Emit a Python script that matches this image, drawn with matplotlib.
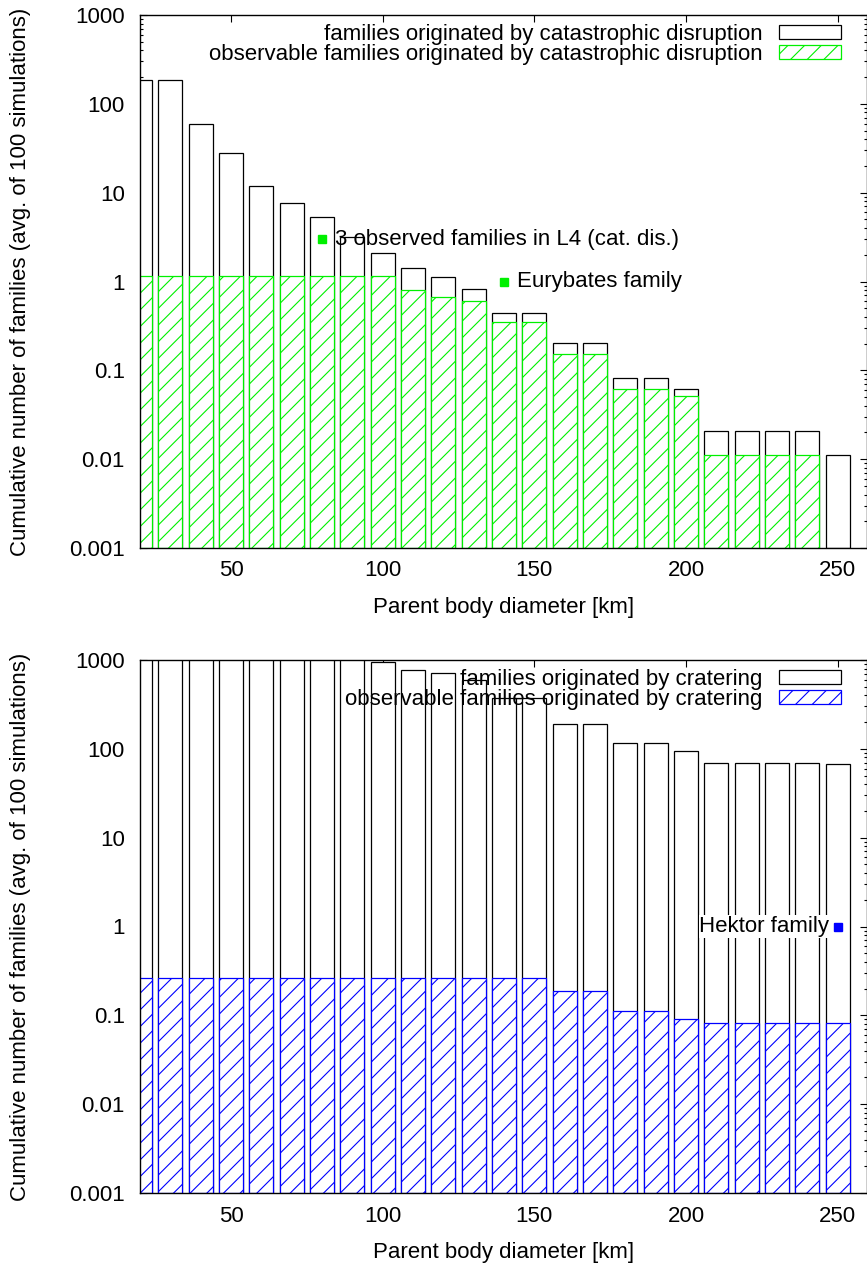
"""Cumulative number of families vs parent body diameter (cat. disruption / cratering)."""
import numpy as np
import matplotlib
matplotlib.use("Agg")
import matplotlib.pyplot as plt
from matplotlib.patches import Rectangle
from matplotlib.ticker import LogLocator, FixedLocator, NullFormatter

plt.rcParams["font.family"] = ["Liberation Sans", "DejaVu Sans"]
plt.rcParams["hatch.linewidth"] = 0.8

# parent body diameter [km]
diameters = [20, 30, 40, 50, 60, 70, 80, 90, 100, 110, 120, 130,
             140, 150, 160, 170, 180, 190, 200, 210, 220, 230, 240, 250]

# catastrophic disruption (avg. of 100 simulations)
cat_all = [185, 185, 60, 28, 12, 7.7, 5.3, 3.2, 2.1, 1.4, 1.12, 0.82,
           0.44, 0.44, 0.2, 0.2, 0.08, 0.08, 0.06, 0.02, 0.02, 0.02, 0.02, 0.01]
cat_obs = [1.15, 1.15, 1.15, 1.15, 1.15, 1.15, 1.15, 1.15, 1.15, 0.8, 0.67, 0.6,
           0.35, 0.35, 0.15, 0.15, 0.06, 0.06, 0.05, 0.01, 0.01, 0.01, 0.01, 0.0]

# cratering (avg. of 100 simulations)
crat_all = [3000, 3000, 3000, 3000, 3000, 3000, 3000, 3000, 950, 780, 720, 600,
            375, 375, 190, 190, 115, 115, 95, 69, 69, 69, 69, 67]
crat_obs = [0.26, 0.26, 0.26, 0.26, 0.26, 0.26, 0.26, 0.26, 0.26, 0.26, 0.26, 0.26,
            0.26, 0.26, 0.185, 0.185, 0.11, 0.11, 0.09, 0.08, 0.08, 0.08, 0.08, 0.08]

# observed families
obs_cat_d = [80, 140]
obs_cat_n = [3, 1]
obs_cat_labels = ["3 observed families in L4 (cat. dis.)", "Eurybates family"]
obs_crat_d = [250]
obs_crat_n = [1]
obs_crat_labels = ["Hektor family"]

FS = 16
GREEN = "#00f000"
BLUE = "#0000ff"
W = 8.0

fig = plt.figure(figsize=(8.67, 12.65), dpi=100)
ax1 = fig.add_axes([140 / 867, 1 - 548 / 1265, 726.5 / 867, 533 / 1265])
ax2 = fig.add_axes([140 / 867, 1 - 1193 / 1265, 726.5 / 867, 533 / 1265])


def style_axes(ax):
    ax.set_yscale("log")
    ax.set_xlim(20, 259.5)
    ax.set_ylim(1e-3, 1e3)
    ax.xaxis.set_major_locator(FixedLocator([50, 100, 150, 200, 250]))
    ax.yaxis.set_minor_locator(LogLocator(base=10, subs=np.arange(2, 10), numticks=20))
    ax.yaxis.set_minor_formatter(NullFormatter())
    ax.set_yticks([1e-3, 1e-2, 1e-1, 1, 10, 100, 1000])
    ax.set_yticklabels(["0.001", "0.01", "0.1", "1", "10", "100", "1000"])
    ax.tick_params(which="both", direction="in", top=True, right=True,
                   labelsize=FS, width=0.8)
    ax.tick_params(which="major", length=5)
    ax.tick_params(which="minor", length=2.5)
    ax.tick_params(axis="x", pad=9)
    ax.tick_params(axis="y", pad=11)
    for s in ax.spines.values():
        s.set_linewidth(1.0)
        s.set_zorder(5)
    ax.set_xlabel("Parent body diameter [km]", fontsize=FS, labelpad=11)
    ax.set_ylabel("Cumulative number of families (avg. of 100 simulations)",
                  fontsize=FS, labelpad=27)


def draw_panel(ax, total, obs, color, lab_all, lab_obs):
    ax.bar(diameters, total, width=W, bottom=1e-3, facecolor="white",
           edgecolor="black", linewidth=0.9, zorder=2)
    obs_vals = [v if v > 0 else np.nan for v in obs]
    ax.bar(diameters, obs_vals, width=W, bottom=1e-3, facecolor="white",
           edgecolor=color, linewidth=0.9, hatch="//", zorder=3)
    h1 = Rectangle((0, 0), 1, 1, facecolor="white", edgecolor="black", linewidth=0.9)
    h2 = Rectangle((0, 0), 1, 1, facecolor="white", edgecolor=color, linewidth=0.9,
                   hatch="//")
    leg = ax.legend([h1, h2], [lab_all, lab_obs], loc="upper right",
                    bbox_to_anchor=(0.9765, 1.0),
                    frameon=False, markerfirst=False, fontsize=FS,
                    handlelength=2.75, handleheight=0.55, handletextpad=0.75,
                    labelspacing=-0.05, borderaxespad=0.1, borderpad=0.3)
    for t in leg.get_texts():
        t.set_ha("right")
    leg.set_zorder(10)


style_axes(ax1)
draw_panel(ax1, cat_all, cat_obs, GREEN,
           "families originated by catastrophic disruption",
           "observable families originated by catastrophic disruption")
ax1.plot(obs_cat_d, obs_cat_n, "s", color=GREEN, ms=5.5, zorder=6)
for d, n, lab in zip(obs_cat_d, obs_cat_n, obs_cat_labels):
    ax1.annotate(lab, (d, n), xytext=(9, 0), textcoords="offset points",
                 ha="left", va="center", fontsize=FS, zorder=7)

style_axes(ax2)
draw_panel(ax2, crat_all, crat_obs, BLUE,
           "families originated by cratering",
           "observable families originated by cratering")
ax2.plot(obs_crat_d, obs_crat_n, "s", color=BLUE, ms=5.5, zorder=6)
for d, n, lab in zip(obs_crat_d, obs_crat_n, obs_crat_labels):
    ax2.annotate(lab, (d, n), xytext=(-6, 0), textcoords="offset points",
                 ha="right", va="center", fontsize=FS, zorder=7,
                 bbox=dict(facecolor="white", edgecolor="none", pad=0.5))

fig.savefig("out.png", dpi=100)
